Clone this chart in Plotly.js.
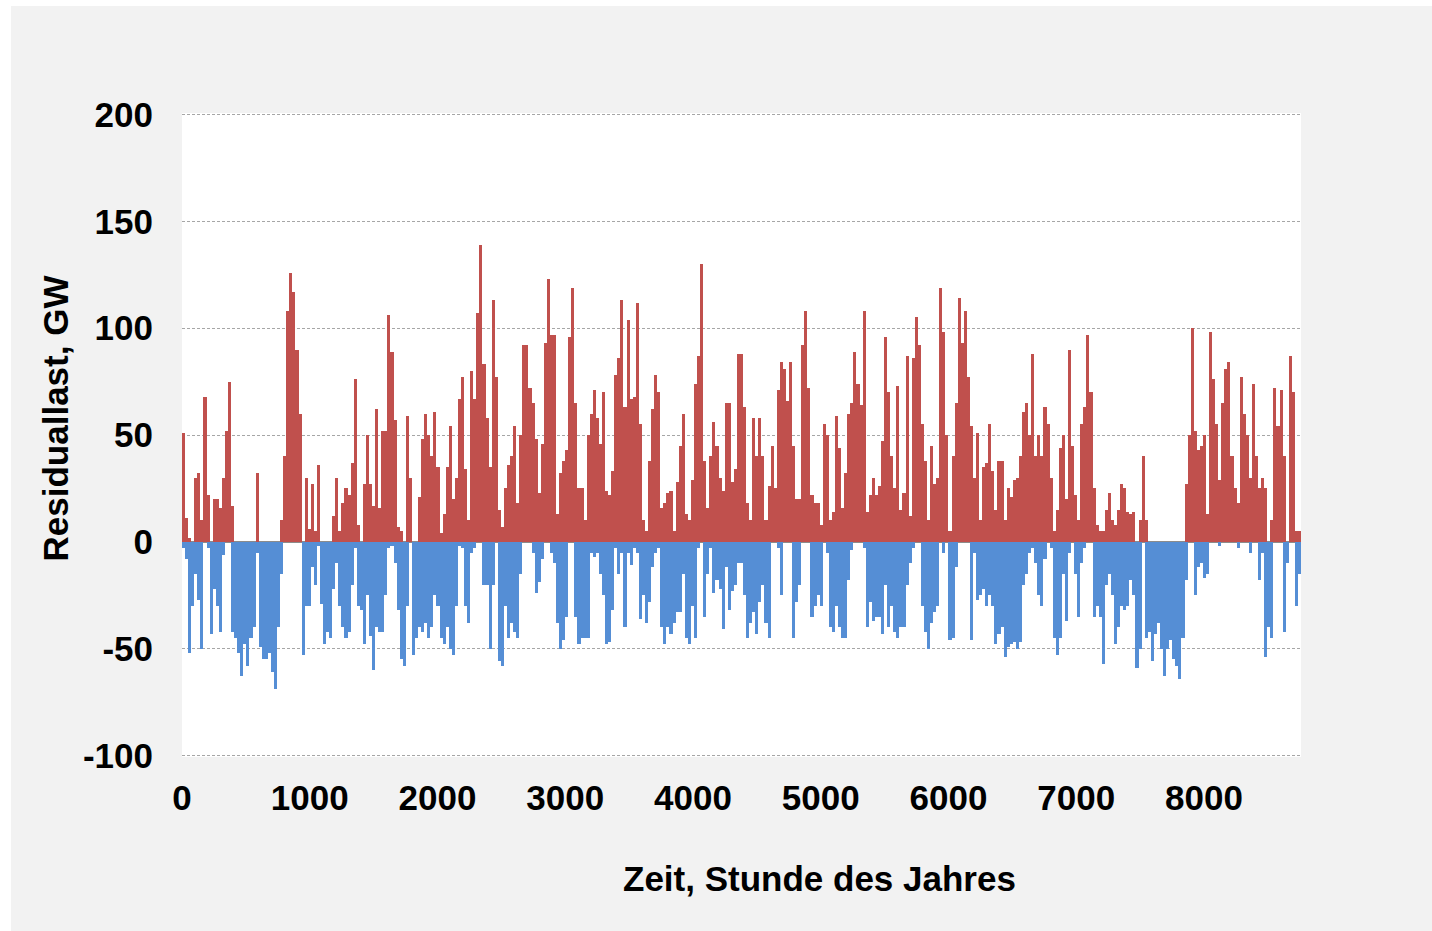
<!DOCTYPE html>
<html>
<head>
<meta charset="utf-8">
<script src="https://cdn.plot.ly/plotly-3.0.1.min.js"></script>
<style>
  html, body { margin: 0; padding: 0; background: #ffffff; }
  #frame { position: absolute; left: 11px; top: 6px; width: 1421px; height: 925px; background: #f2f2f2; }
  #chart { width: 1421px; height: 925px; }
</style>
</head>
<body>
<div id="frame"><div id="chart"></div></div>
<script>
// Daily maximum (positive residual load, GW) for each day of the year
const dailyMax = [
  51, 11, 2, 0, 30, 32, 10, 68, 22, 0,
  20, 20, 16, 30, 52, 75, 17, 0, 0, 0,
  0, 0, 0, 0, 32, 0, 0, 0, 0, 0,
  0, 0, 10, 40, 108, 126, 117, 90, 60, 0,
  30, 6, 27, 5, 36, 0, 0, 0, 0, 12,
  30, 5, 18, 25, 22, 37, 76, 8, 0, 27,
  50, 27, 17, 62, 16, 52, 52, 106, 89, 57,
  7, 5, 0, 59, 30, 0, 0, 21, 48, 60,
  50, 40, 61, 35, 4, 13, 35, 54, 20, 30,
  67, 77, 34, 10, 80, 67, 107, 139, 83, 58,
  35, 113, 77, 15, 7, 25, 36, 40, 54, 18,
  50, 92, 92, 72, 65, 48, 23, 46, 93, 123,
  97, 97, 13, 32, 38, 43, 96, 119, 65, 25,
  25, 10, 50, 60, 71, 58, 46, 70, 24, 22,
  33, 78, 86, 113, 63, 104, 67, 68, 112, 55,
  10, 5, 38, 62, 78, 70, 16, 18, 23, 24,
  5, 28, 45, 60, 13, 10, 29, 74, 87, 130,
  38, 16, 40, 56, 45, 30, 24, 65, 65, 28,
  34, 88, 88, 63, 18, 10, 58, 40, 58, 40,
  10, 26, 45, 25, 71, 84, 81, 66, 84, 45,
  20, 20, 92, 108, 72, 22, 18, 18, 8, 55,
  50, 10, 14, 59, 44, 16, 32, 60, 65, 89,
  74, 64, 108, 14, 22, 30, 22, 26, 47, 96,
  70, 40, 25, 73, 15, 23, 87, 12, 86, 105,
  92, 55, 38, 10, 45, 27, 30, 119, 98, 50,
  5, 40, 65, 114, 93, 108, 77, 54, 30, 51,
  10, 35, 37, 55, 33, 15, 38, 38, 10, 25,
  21, 29, 30, 40, 61, 65, 50, 88, 40, 50,
  40, 63, 55, 30, 5, 15, 44, 50, 20, 90,
  45, 22, 10, 55, 63, 97, 70, 25, 8, 5,
  5, 15, 23, 10, 8, 15, 27, 25, 14, 13,
  14, 0, 10, 40, 10, 0, 0, 0, 0, 0,
  0, 0, 0, 0, 0, 0, 0, 27, 50, 100,
  52, 43, 45, 50, 13, 98, 76, 55, 29, 65,
  81, 84, 40, 25, 18, 77, 60, 50, 30, 74,
  40, 25, 30, 25, 0, 10, 72, 54, 71, 40,
  0, 87, 70, 5, 5
];

// Daily minimum (negative residual load, GW)
const dailyMin = [
  -3, -8, -52, -30, -15, -27, -50, 0, -3, -43,
  -22, -30, -42, -6, 0, 0, -42, -45, -52, -63,
  -48, -58, -45, -40, -5, -49, -55, -55, -52, -61,
  -69, -40, -15, 0, 0, 0, 0, 0, 0, -53,
  -30, -30, -12, -20, -2, -29, -48, -42, -45, -22,
  -10, -30, -40, -45, -42, -20, -3, -30, -32, -48,
  -25, -44, -60, -40, -42, -42, -25, -3, -2, -10,
  -32, -55, -58, -30, 0, -53, -45, -40, -42, -38,
  -45, -40, -25, -30, -45, -48, -40, -50, -53, -30,
  -2, -3, -30, -38, -5, -3, 0, 0, -20, -20,
  -50, -20, 0, -56, -58, -30, -45, -38, -42, -45,
  -15, 0, 0, 0, -5, -24, -19, -8, 0, 0,
  -5, -10, -38, -50, -46, -35, 0, 0, -35, -48,
  -45, -45, -45, -5, -7, -5, -15, -25, -48, -47,
  -32, -3, -15, -5, -40, -5, -11, -3, -5, -36,
  -25, -38, -28, -12, -5, -3, -40, -48, -40, -43,
  -38, -33, -33, -15, -45, -48, -30, -45, -3, 0,
  -35, -15, -3, -24, -18, -22, -41, -12, -32, -23,
  -20, -10, -10, -25, -45, -38, -33, -43, -28, -20,
  -38, -45, 0, 0, -3, -25, 0, 0, 0, -45,
  -28, -20, 0, 0, 0, -35, -30, -25, -30, 0,
  -5, -40, -42, -30, -40, -45, -45, -18, -4, 0,
  0, 0, -3, -40, -28, -37, -35, -35, -43, -20,
  -40, -30, -42, -45, -40, -40, -20, -10, -3, 0,
  0, -30, -42, -50, -38, -33, -30, 0, -5, 0,
  -46, -45, -12, 0, 0, 0, 0, -46, -5, -27,
  -25, -22, -30, -25, -30, -48, -43, -40, -54, -49,
  -48, -47, -50, -47, -20, -15, -5, -3, -10, -25,
  -30, -8, 0, -3, -45, -53, -45, -15, -37, -5,
  0, -15, -35, -10, -3, 0, 0, -35, -30, -35,
  -57, -20, -15, -25, -48, -40, -30, -32, -30, -18,
  -25, -59, -50, 0, -45, -42, -56, -43, -38, -50,
  -63, -50, -46, -55, -58, -64, -45, -18, 0, 0,
  -25, -12, -10, -17, -15, 0, 0, 0, -2, 0,
  0, 0, 0, 0, -3, 0, 0, 0, -5, 0,
  0, -18, -5, -54, -40, -45, 0, 0, 0, -42,
  -10, 0, 0, -30, -15
];

const xTickVals = [0, 1000, 2000, 3000, 4000, 5000, 6000, 7000, 8000];
const yTickVals = [-100, -50, 0, 50, 100, 150, 200];
const yEdgeLines = [-100, 200];
const xTitle = 'Zeit, Stunde des Jahres';
const yTitle = 'Residuallast, GW';

const hoursPerDay = 24;
const xs = dailyMax.map((_, i) => i * hoursPerDay + hoursPerDay / 2);

const traces = [
  { type: 'bar', x: xs, y: dailyMax, width: hoursPerDay,
    marker: { color: '#c0504d', line: { width: 0 } }, hoverinfo: 'x+y' },
  { type: 'bar', x: xs, y: dailyMin, width: hoursPerDay,
    marker: { color: '#558ed5', line: { width: 0 } }, hoverinfo: 'x+y' }
];

const FAM = 'Liberation Sans, Arial, sans-serif';
const tickFont = { family: FAM, size: 35, color: '#000000', weight: 'bold' };
const titleFont = { family: FAM, size: 35, color: '#000000', weight: 'bold' };
const gridColor = '#a6a6a6';
const gridDash = '3px,2px';

const layout = {
  width: 1421, height: 925,
  paper_bgcolor: '#f2f2f2',
  plot_bgcolor: '#ffffff',
  margin: { l: 171, r: 131, t: 107, b: 174 },
  barmode: 'relative',
  bargap: 0,
  showlegend: false,
  font: tickFont,
  xaxis: {
    range: [0, 8760],
    tickvals: xTickVals,
    ticktext: xTickVals.map(String),
    tickfont: tickFont,
    showgrid: false,
    zeroline: false,
    showline: false,
    ticks: '',
    ticklabelstandoff: 17
  },
  yaxis: {
    range: [-100.7, 200.7],
    tickvals: yTickVals,
    ticktext: yTickVals.map(String),
    tickfont: tickFont,
    showgrid: true,
    gridcolor: gridColor,
    griddash: gridDash,
    gridwidth: 1,
    zeroline: true,
    zerolinecolor: '#8c8c8c',
    zerolinewidth: 2,
    showline: false,
    ticks: '',
    ticklabelstandoff: 28
  },
  shapes: yEdgeLines.map(v => ({
    type: 'line', xref: 'paper', yref: 'y', x0: 0, x1: 1, y0: v, y1: v,
    layer: 'below', line: { color: gridColor, width: 1, dash: gridDash }
  })),
  annotations: [
    { text: xTitle, xref: 'paper', yref: 'paper', x: 0.570, y: -0.189,
      xanchor: 'center', yanchor: 'middle', showarrow: false, font: titleFont },
    { text: yTitle, xref: 'paper', yref: 'paper', x: -0.113, y: 0.525, textangle: -90,
      xanchor: 'center', yanchor: 'middle', showarrow: false, font: titleFont }
  ]
};

Plotly.newPlot('chart', traces, layout, { displayModeBar: false, staticPlot: true });
</script>
</body>
</html>
